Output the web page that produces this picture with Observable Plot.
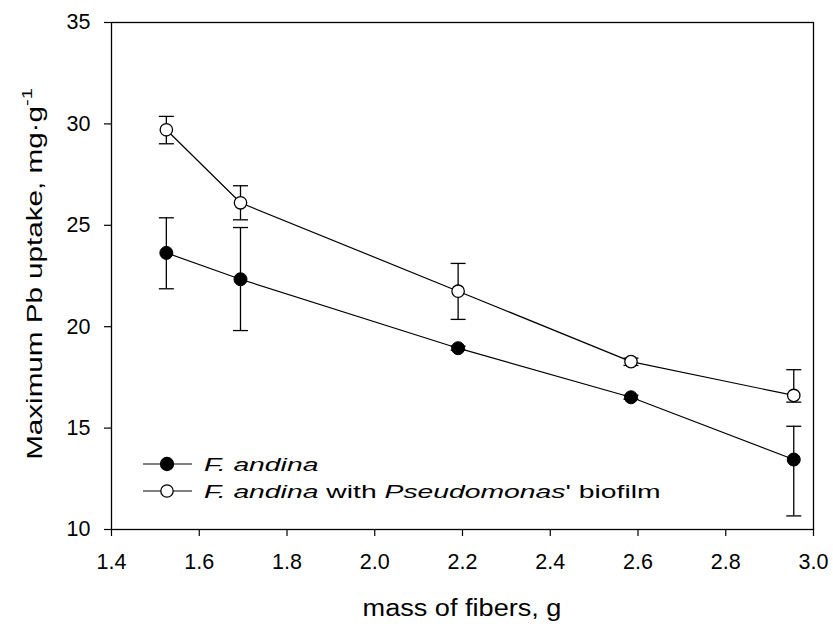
<!DOCTYPE html>
<html>
<head>
<meta charset="utf-8">
<script src="https://cdn.jsdelivr.net/npm/d3@7"></script>
<script src="https://cdn.jsdelivr.net/npm/@observablehq/plot@0.6"></script>
<style>
  html, body { margin: 0; padding: 0; background: #fff; }
  #chart { width: 833px; height: 624px; }
  svg { font-family: "Liberation Sans", Arial, sans-serif; }
</style>
</head>
<body>
<div id="chart"></div>
<script>
// ---- data ----
const mass = [1.525, 1.694, 2.19, 2.584, 2.955];
const seriesNames = ["F. andina", "F. andina with Pseudomonas' biofilm"];
const andina = [23.64, 22.34, 18.94, 16.52, 13.45];
const andinaLow = [21.87, 19.81, 18.84, 16.42, 10.67];
const andinaHigh = [25.37, 24.89, 19.04, 16.62, 15.09];
const biofilm = [29.71, 26.11, 21.75, 18.28, 16.61];
const biofilmLow = [29.02, 25.27, 20.36, 18.09, 16.28];
const biofilmHigh = [30.37, 26.95, 23.12, 18.45, 17.88];
const xTicks = [1.4, 1.6, 1.8, 2.0, 2.2, 2.4, 2.6, 2.8, 3.0];
const yTicks = [10, 15, 20, 25, 30, 35];

const rows = [];
mass.forEach((m, i) => {
  rows.push({series: seriesNames[0], x: m, y: andina[i], lo: andinaLow[i], hi: andinaHigh[i]});
  rows.push({series: seriesNames[1], x: m, y: biofilm[i], lo: biofilmLow[i], hi: biofilmHigh[i]});
});
const rowsA = rows.filter(d => d.series === seriesNames[0]);
const rowsB = rows.filter(d => d.series === seriesNames[1]);

const capSymbol = {
  draw(context, size) {
    const w = Math.sqrt(size / Math.PI);
    context.moveTo(-w, 0);
    context.lineTo(w, 0);
  }
};

const chart = Plot.plot({
  width: 833,
  height: 624,
  marginLeft: 111,
  marginRight: 20,
  marginTop: 22,
  marginBottom: 95,
  style: {fontFamily: "'Liberation Sans', Arial, sans-serif", color: "black", background: "white"},
  x: {domain: [1.4, 3.0]},
  y: {domain: [10, 35]},
  marks: [
    Plot.frame({stroke: "black", strokeWidth: 1.3}),
    Plot.axisX({ticks: xTicks, tickFormat: d => d.toFixed(1), tickSize: 7, tickPadding: 17, fontSize: 21.5, label: null, strokeWidth: 1.2}),
    Plot.axisY({ticks: yTicks, tickSize: 7, tickPadding: 14, fontSize: 21.5, label: null, strokeWidth: 1.2}),
    Plot.line(rows, {x: "x", y: "y", z: "series", stroke: "black", strokeWidth: 1.2}),
    Plot.ruleX(rows, {x: "x", y1: "lo", y2: "hi", stroke: "black", strokeWidth: 1.3}),
    Plot.dot(rows, {x: "x", y: "lo", symbol: capSymbol, r: 7.5, stroke: "black", strokeWidth: 1.3, fill: "none"}),
    Plot.dot(rows, {x: "x", y: "hi", symbol: capSymbol, r: 7.5, stroke: "black", strokeWidth: 1.3, fill: "none"}),
    Plot.dot(rowsA, {x: "x", y: "y", r: 6.5, fill: "black", stroke: "black", strokeWidth: 1}),
    Plot.dot(rowsB, {x: "x", y: "y", r: 6.2, fill: "white", stroke: "black", strokeWidth: 1.3})
  ]
});
document.getElementById("chart").appendChild(chart);

const svg = d3.select(chart);
const ff = "'Liberation Sans', Arial, sans-serif";

// x-axis title
const xt = svg.append("text")
  .attr("font-family", ff).attr("font-size", 23).attr("text-anchor", "middle").attr("fill", "black")
  .text("mass of fibers, g");
{
  const len = xt.node().getComputedTextLength();
  xt.attr("transform", `translate(462,616) scale(${199 / len},1)`);
}

// y-axis title with superscript
const yt = svg.append("text")
  .attr("font-family", ff).attr("font-size", 22).attr("text-anchor", "middle").attr("fill", "black");
yt.append("tspan").text("Maximum Pb uptake, mg\u00B7g");
yt.append("tspan").attr("font-size", 15).attr("dy", -10).text("-1");
{
  const len = yt.node().getBBox().width;
  yt.attr("transform", `translate(42,274) rotate(-90) scale(${372 / len},1)`);
}

// legend
const lg = svg.append("g").attr("text-anchor", "start");
const legendRows = [
  {y: 464, fill: "black", r: 6.5, parts: [["F. andina", true]]},
  {y: 491, fill: "white", r: 6.2, parts: [["F. andina", true], [" with ", false], ["Pseudomonas", true], ["' biofilm", false]]}
];
legendRows.forEach(row => {
  lg.append("line").attr("x1", 143).attr("x2", 192).attr("y1", row.y).attr("y2", row.y)
    .attr("stroke", "black").attr("stroke-width", 1.2);
  lg.append("circle").attr("cx", 167).attr("cy", row.y).attr("r", row.r)
    .attr("fill", row.fill).attr("stroke", "black").attr("stroke-width", 1.3);
  const t = lg.append("text").attr("font-family", ff).attr("font-size", 18).attr("fill", "black")
    .attr("text-anchor", "start").style("white-space", "pre");
  row.parts.forEach(([s, it]) => t.append("tspan").attr("font-style", it ? "italic" : "normal").text(s));
  row.t = t;
});
{
  const len = legendRows[1].t.node().getBBox().width;
  const sx = 457 / len;
  legendRows.forEach(row => row.t.attr("transform", `translate(204,${row.y + 6.5}) scale(${sx},1)`));
}
</script>
</body>
</html>
